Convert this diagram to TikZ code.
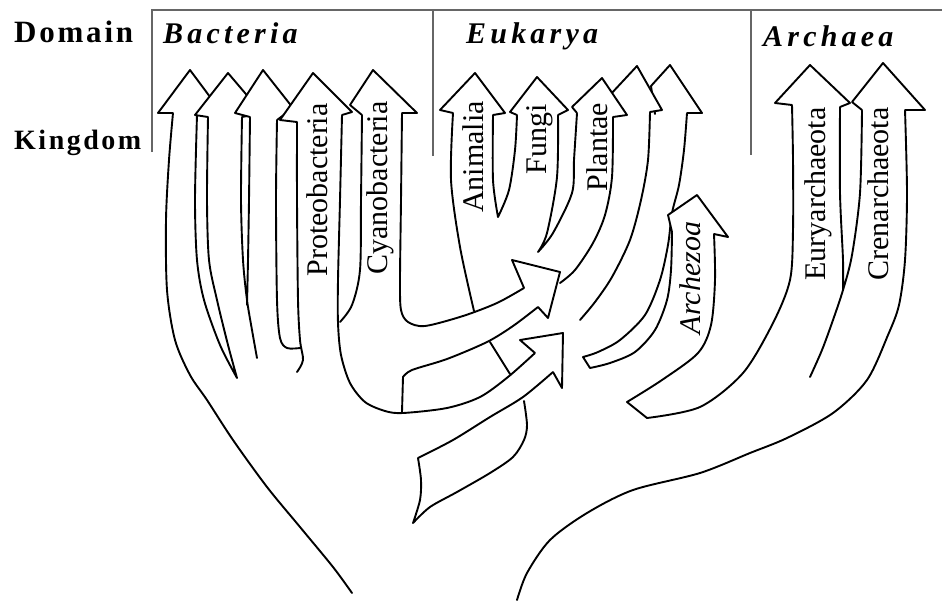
\documentclass[tikz,border=0pt]{standalone}
\usepackage{fontspec}
\setmainfont{Liberation Serif}
\newfontfamily\rankfont{Liberation Serif}[LetterSpace=9]
\newfontfamily\domfont{Liberation Serif}[LetterSpace=14]

\begin{document}
\begin{tikzpicture}[x=1pt, y=-1pt,
    branch/.style={line width=1.9pt, line join=round, line cap=round},
    head/.style={branch, fill=white},
    frame/.style={line width=1.2pt, black!60},
    rank/.style={anchor=base west, inner sep=0pt},
    domname/.style={anchor=base west, inner sep=0pt,
        font=\domfont\bfseries\itshape\fontsize{30}{30}\selectfont},
    kingdom/.style={rotate=90, anchor=base, inner sep=0pt,
        font=\fontsize{30}{30}\selectfont}]
    \useasboundingbox (0,0) rectangle (942,605);

    % --- Domain frame ---
    \draw[frame] (152,152) -- (152,10) -- (942,10);
    \draw[frame] (433,10) -- (433,156);
    \draw[frame] (751,10) -- (751,155);

    % --- Rank labels ---
    \node[rank, font=\rankfont\bfseries\fontsize{31}{31}\selectfont] (domain) at (14,42) {Domain};
    \node[rank, font=\rankfont\bfseries\fontsize{28}{28}\selectfont] (kingdom) at (14,149) {Kingdom};
    \node[domname] (bact) at (163,43) {Bacteria};
    \node[domname] (euk) at (466,43) {Eukarya};
    \node[domname] (arch) at (763,46) {Archaea};

    % --- 1. Bacteria: trunk and shafts ---
    \draw[branch] plot[smooth] coordinates {(173,113) (169,160) (166,220) (167,290) (175,340)
        (190,375) (207,400) (233,440) (267,487) (300,527) (333,567) (352,593)};
    \draw[branch] plot[smooth] coordinates {(197,115) (195,200) (197,260) (204,300) (220,345) (237,378)}
        plot[smooth] coordinates {(208,117) (207,200) (209,260) (217,300) (228,345) (237,378)};
    \draw[branch] plot[smooth] coordinates {(242,117) (241,200) (243,260) (247,300) (252,330) (257,358)}
        plot[smooth] coordinates {(250,117) (249,200) (248,260) (247,305)};
    \draw[branch] plot[smooth] coordinates {(277,120) (276,200) (277,300) (280,338) (287,348) (300,348)}
        plot[smooth] coordinates {(297,122) (297,200) (298,300) (300,340) (303,360) (297,372)};
    % Proteobacteria edge bending into the lower (mitochondrial) arrow
    \draw[branch] plot[smooth] coordinates {(342,115) (340,200) (338,280) (338,323) (341,355) (350,383)
        (365,402) (385,411) (403,413) (447,408) (480,397) (508,377) (535,353)};
    \draw[branch] plot[smooth] coordinates {(362,115) (361,200) (360,270) (352,305) (340,322)};
    % Cyanobacteria edge bending into the upper (plastid) arrow
    \draw[branch] plot[smooth] coordinates {(402,113) (401,200) (400,280) (401,310) (408,322) (425,326)
        (463,316) (497,303) (524,288)};
    \draw[branch] plot[smooth] coordinates {(538,307) (513,326) (487,342) (447,359) (412,370) (403,377)}
        -- (402,412);

    % --- 2. Eukarya: shafts ---
    \draw[branch] plot[smooth] coordinates {(453,113) (451,180) (460,247) (474,311)};
    \draw[branch] (490,342) -- (510,374);
    \draw[branch] plot[smooth] coordinates {(553,372) (523,397) (490,417) (453,440) (418,458)}
        -- plot[smooth] coordinates {(418,458) (421,480) (420,500) (413,523)}
        -- plot[smooth] coordinates {(413,523) (430,507) (457,492) (490,473) (513,457) (524,440)
        (527,425) (524,401)};
    \draw[branch] plot[smooth] coordinates {(493,115) (493,180) (498,217)}
        plot[smooth] coordinates {(498,217) (509,190) (515,150) (517,115)};
    \draw[branch] plot[smooth] coordinates {(558,115) (557,177) (547,233) (538,252)}
        plot[smooth] coordinates {(577,113) (574,160) (572,193) (553,233) (538,252)};
    \draw[branch] plot[smooth] coordinates {(613,117) (612,177) (605,215) (593,243) (575,270) (560,283)};
    \draw[branch] plot[smooth] coordinates {(650,112) (648,160) (641,200) (630,240) (612,277) (595,302) (580,320)};
    \draw[branch] plot[smooth] coordinates {(687,113) (684,150) (679,185) (672,213) (668,245) (660,280)
        (645,315) (620,340) (598,352) (583,357)} -- (590,368)
        -- plot[smooth] coordinates {(590,368) (610,363) (635,352) (655,330) (667,300) (671,270) (672,232)};
    % Archezoa, rising from the archaeal trunk
    \draw[branch] plot[smooth] coordinates {(714,234) (715,280) (711,325) (698,353) (662,380) (627,402)}
        -- (647,418)
        -- plot[smooth] coordinates {(647,418) (700,407) (743,373) (773,323) (790,280) (793,230) (793,160) (792,105)};

    % --- 3. Archaea: shafts ---
    \draw[branch] plot[smooth] coordinates {(840,107) (840,193) (843,260) (843,290)}
        plot[smooth] coordinates {(862,110) (860,193) (852,255) (843,290) (833,320) (822,350) (810,377)};
    \draw[branch] plot[smooth] coordinates {(905,110) (907,193) (905,260) (899,305) (888,335) (867,380)
        (833,413) (787,438) (750,453) (700,473) (633,490) (587,513) (550,540) (527,573) (517,600)};

    % --- 4. Arrow heads (later ones overlap earlier ones) ---
    \draw[head] (173,113) -- (158,113) -- (190,70) -- (222,113) -- (197,115);
    \draw[head] (208,117) -- (195,115) -- (228,73) -- (262,113) -- (242,117);
    \draw[head] (250,117) -- (235,113) -- (263,70) -- (293,108) -- (277,120);
    \draw[head] (297,122) -- (280,120) -- (313,73) -- (352,112) -- (342,115);
    \draw[head] (362,115) -- (350,105) -- (373,70) -- (417,113) -- (402,113);
    \draw[head] (655,114) -- (651,86) -- (670,65) -- (702,113) -- (687,113);
    \draw[head] (613,117) -- (610,95) -- (637,66) -- (662,110) -- (650,112);
    \draw[head] (577,113) -- (572,107) -- (602,78) -- (627,115) -- (613,117);
    \draw[head] (517,115) -- (510,112) -- (537,77) -- (568,110) -- (558,115);
    \draw[head] (453,113) -- (440,110) -- (475,73) -- (505,113) -- (493,115);
    \draw[head] (672,232) -- (668,215) -- (697,195) -- (728,237) -- (714,234);
    \draw[head] (524,288) -- (512,260) -- (560,272) -- (548,318) -- (538,307);
    \draw[head] (535,353) -- (520,340) -- (563,333) -- (562,388) -- (553,372);
    \draw[head] (792,105) -- (775,103) -- (810,65) -- (850,103) -- (840,107);
    \draw[head] (862,110) -- (852,102) -- (883,63) -- (925,110) -- (905,110);

    % --- 5. Kingdom names ---
    \node[kingdom] (proteo) at (327,190) {Proteobacteria};
    \node[kingdom] (cyano) at (387,188) {Cyanobacteria};
    \node[kingdom] (animalia) at (483,157) {Animalia};
    \node[kingdom] (fungi) at (546,139) {Fungi};
    \node[kingdom] (plantae) at (607,147) {Plantae};
    \node[kingdom, font=\itshape\fontsize{30}{30}\selectfont] (archezoa) at (700,278) {Archezoa};
    \node[kingdom] (eury) at (825,194) {Euryarchaeota};
    \node[kingdom] (cren) at (888,194) {Crenarchaeota};
\end{tikzpicture}
\end{document}
